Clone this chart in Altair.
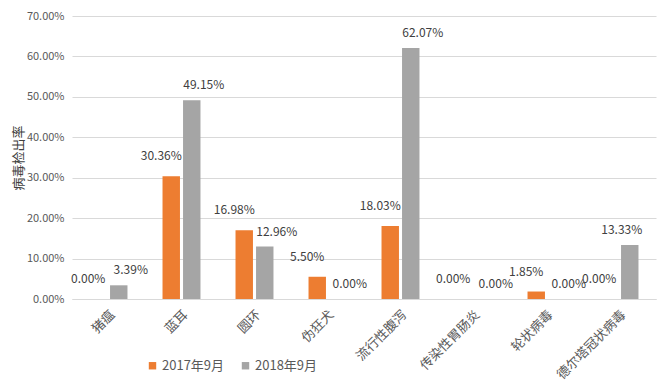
import altair as alt
import pandas as pd

categories = ["猪瘟", "蓝耳", "圆环", "伪狂犬", "流行性腹泻", "传染性胃肠炎", "轮状病毒", "德尔塔冠状病毒"]
series = ["2017年9月", "2018年9月"]
v2017 = [0.0, 0.3036, 0.1698, 0.0550, 0.1803, 0.0, 0.0185, 0.0]
v2018 = [0.0339, 0.4915, 0.1296, 0.0, 0.6207, 0.0, 0.0, 0.1333]
y_ticks = [0, 0.1, 0.2, 0.3, 0.4, 0.5, 0.6, 0.7]

rows = []
for c, a, b in zip(categories, v2017, v2018):
    rows.append({"cat": c, "series": series[0], "v": a})
    rows.append({"cat": c, "series": series[1], "v": b})
df = pd.DataFrame(rows)

FONT = "Noto Sans CJK SC"
colors = ["#ED7D31", "#A5A5A5"]

x = alt.X("cat:N", sort=categories, title=None,
          scale=alt.Scale(paddingInner=0.48, paddingOuter=0.24),
          axis=alt.Axis(labelAngle=-45, labelAlign="right", labelBaseline="top",
                        labelFontSize=13, labelColor="#595959", labelFont=FONT,
                        domain=True, domainColor="#D9D9D9", ticks=False, labelPadding=9))
y = alt.Y("v:Q", title="病毒检出率",
          scale=alt.Scale(domain=[0, 0.7], nice=False),
          axis=alt.Axis(values=y_ticks, format=".2%", labelFontSize=11, labelColor="#595959",
                        labelFont=FONT, titleFont=FONT, titleFontSize=13, titleColor="#404040",
                        titleFontWeight="normal", domain=False, ticks=False,
                        gridColor="#D9D9D9", labelPadding=8, titlePadding=1))
color = alt.Color("series:N", sort=series, scale=alt.Scale(domain=series, range=colors),
                  legend=alt.Legend(title=None, orient="none", direction="horizontal",
                                    legendX=74, legendY=343, symbolType="square",
                                    symbolSize=55, labelFontSize=13, labelColor="#595959",
                                    labelFont=FONT, columnPadding=14, symbolStrokeWidth=0,
                                    labelOffset=3))
xo = alt.XOffset("series:N", sort=series, scale=alt.Scale(paddingInner=0.15))

base = alt.Chart(df)
bars = base.mark_bar().encode(x=x, y=y, color=color, xOffset=xo)
enc = dict(x=x, y=y, xOffset=xo, text=alt.Text("v:Q", format=".2%"))
lab17 = base.transform_filter(alt.datum.series == series[0]).mark_text(
    dy=-20, dx=-10, fontSize=12, color="#404040", font=FONT).encode(**enc)
lab18 = base.transform_filter(
    (alt.datum.series == series[1]) & (alt.datum.cat != categories[-1])
).mark_text(dy=-15, dx=12, fontSize=12, color="#404040", font=FONT).encode(**enc)
lab18_last = base.transform_filter(
    (alt.datum.series == series[1]) & (alt.datum.cat == categories[-1])
).mark_text(dy=-15, dx=-8, fontSize=12, color="#404040", font=FONT).encode(**enc)

chart = (bars + lab17 + lab18 + lab18_last).properties(
    width=584, height=283,
    autosize=alt.AutoSizeParams(type="none"),
    padding={"left": 64, "top": 8, "right": 2, "bottom": 84},
).configure_view(stroke=None)
chart.save("out.html", embed_options={"renderer": "svg", "actions": False})
